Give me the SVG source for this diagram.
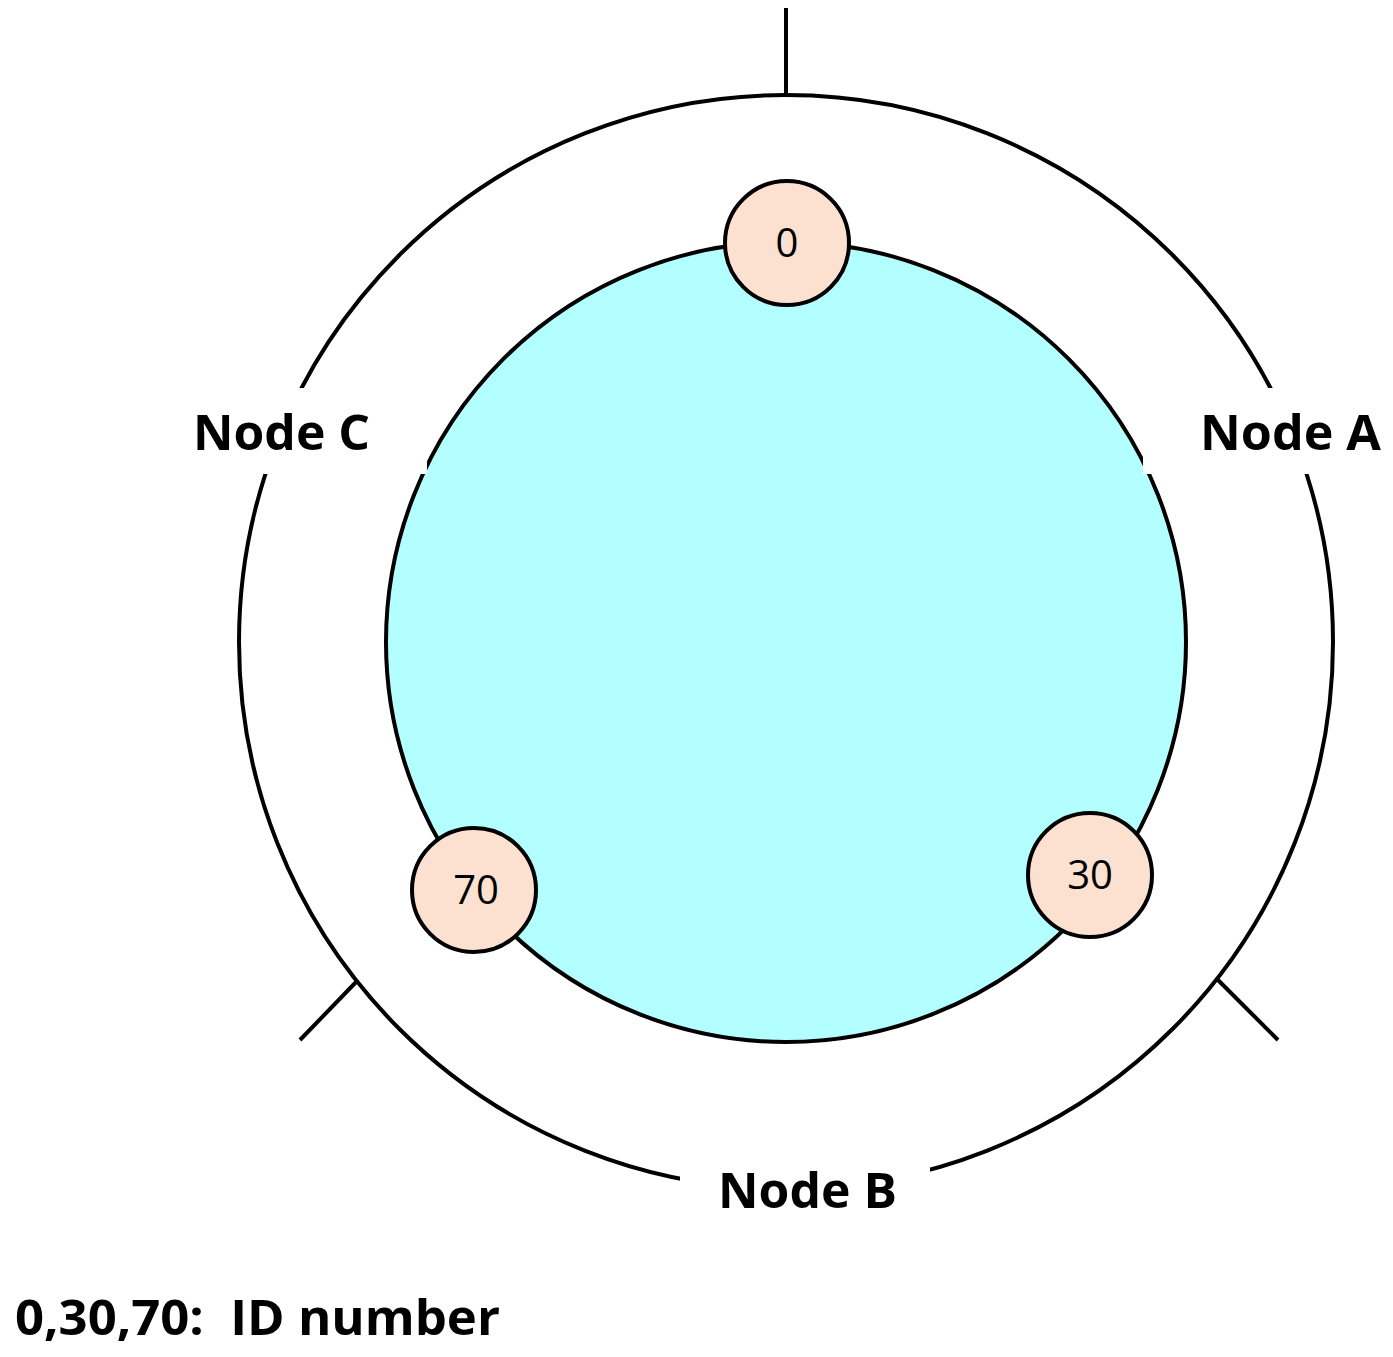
<svg xmlns="http://www.w3.org/2000/svg" width="1393" height="1357" viewBox="0 0 1393 1357">
<style>
.ln{stroke:#000;stroke-width:4;fill:none}
.lbl{font-family:"Open Sans","Liberation Sans",Arial,sans-serif;font-weight:bold;font-size:48px;fill:#000}
.id{font-family:"Open Sans","Liberation Sans",sans-serif;font-size:40px;fill:#000;text-anchor:middle}
.sm{fill:#fde1d0;stroke:#000;stroke-width:4}
</style>
<rect width="1393" height="1357" fill="#fff"/>
<g id="connectors">
<circle class="ln" cx="786" cy="642" r="547"/>
<line class="ln" x1="786" y1="8" x2="786" y2="95"/>
<line class="ln" x1="300" y1="1040" x2="358" y2="980"/>
<line class="ln" x1="1218" y1="980" x2="1278" y2="1040"/>
</g>
<g id="ring">
<circle cx="786" cy="642" r="400" fill="#b3feff" stroke="#000" stroke-width="4"/>
</g>
<g id="nodeC"><rect x="182" y="388" width="245" height="86" fill="#fff"/><text class="lbl" x="193" y="450" textLength="177" lengthAdjust="spacingAndGlyphs">Node C</text></g>
<g id="nodeA"><rect x="1143" y="388" width="250" height="86" fill="#fff"/><text class="lbl" x="1200" y="450" textLength="181" lengthAdjust="spacingAndGlyphs">Node A</text></g>
<g id="nodeB"><rect x="680" y="1160" width="250" height="65" fill="#fff"/><text class="lbl" x="718" y="1208" textLength="179" lengthAdjust="spacingAndGlyphs">Node B</text></g>
<g id="id0"><circle class="sm" cx="787" cy="243" r="62"/><text class="id" x="787" y="257">0</text></g>
<g id="id30"><circle class="sm" cx="1090" cy="875" r="62"/><text class="id" x="1090" y="889">30</text></g>
<g id="id70"><circle class="sm" cx="474" cy="890" r="62"/><text class="id" x="476" y="904">70</text></g>
<g id="legend"><text class="lbl" x="15" y="1335" xml:space="preserve" textLength="485" lengthAdjust="spacingAndGlyphs">0,30,70:  ID number</text></g>
</svg>
